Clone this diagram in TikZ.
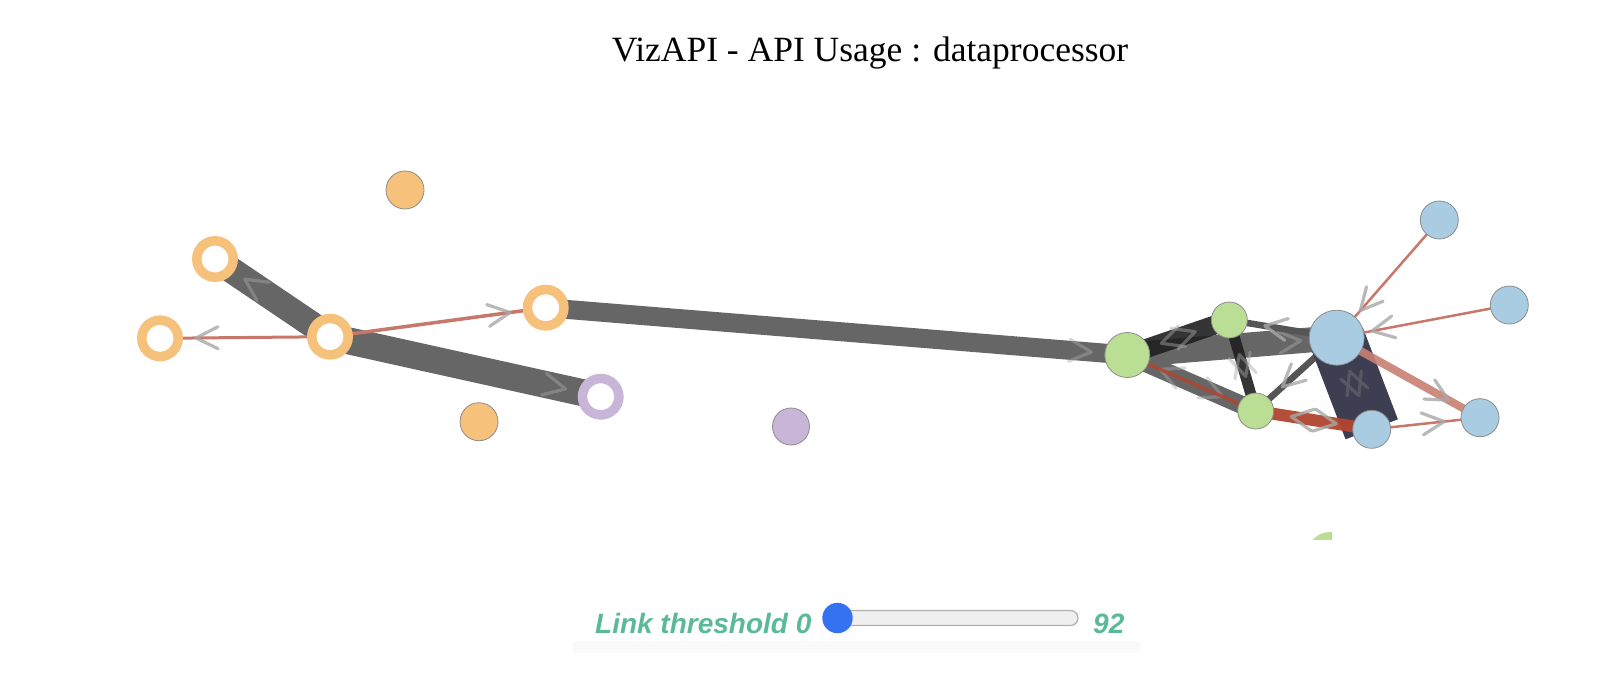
\documentclass[tikz,border=0pt]{standalone}
\usepackage{fontspec}
\setmainfont{Liberation Serif}
\newfontfamily\slfont{Liberation Sans}
\usetikzlibrary{decorations.markings}
\pgfdeclarelayer{bg}
\pgfsetlayers{bg,main}
\definecolor{orangeN}{HTML}{F5C17B}
\definecolor{purpleN}{HTML}{C9B5D8}
\definecolor{greenN}{HTML}{BADE93}
\definecolor{blueN}{HTML}{A9CCE2}
\definecolor{nodeB}{HTML}{8C8C8C}
\definecolor{gEdge}{HTML}{666666}
\definecolor{dEdge}{HTML}{202020}
\definecolor{mEdge}{HTML}{555555}
\definecolor{navyE}{HTML}{3D3E52}
\definecolor{redThin}{HTML}{C7786A}
\definecolor{redThick}{HTML}{B2452E}
\definecolor{salmonE}{HTML}{C98073}
\definecolor{chevC}{HTML}{A8A8A8}
\definecolor{chevN}{HTML}{5A5A66}
\definecolor{tealT}{HTML}{5BB99A}
\definecolor{thumbC}{HTML}{3572F1}
\definecolor{trackF}{HTML}{EFEFEF}
\definecolor{trackB}{HTML}{B0B0B0}
\tikzset{
  ringnode/.style={circle, draw=#1, line width=9.5pt, fill=white, minimum size=36.4pt, inner sep=0pt},
  dotnode/.style 2 args={circle, fill=#1, draw=nodeB, line width=0.8pt, minimum size=#2, inner sep=0pt},
  chev/.style={draw=chevC, line width=3.2pt, opacity=0.8, line cap=round, line join=round},
  chevcol/.style={},
  arr/.style={postaction={decorate, decoration={markings, mark=at position -36pt with {\draw[chev, chevcol] (-22pt,11pt) -- (0pt,0pt) -- (-22pt,-11pt);}}}},
  arrS/.style={postaction={decorate, decoration={markings, mark=at position 36pt with {\draw[chev, chevcol] (22pt,11pt) -- (0pt,0pt) -- (22pt,-11pt);}}}},
  faintchev/.style={chevcol/.style={opacity=0.45}},
  navychev/.style={chevcol/.style={draw=chevN, opacity=0.9}},
  gband/.style={draw=gEdge, line cap=butt, faintchev},
  dband/.style={draw=dEdge, opacity=0.9, line cap=butt, faintchev},
  redline/.style={draw=redThin, line width=2.5pt, line cap=butt},
}
\begin{document}
\begin{tikzpicture}[x=1pt,y=-1pt]
\useasboundingbox (0,0) rectangle (1600,675);
\begin{pgfonlayer}{bg}
\fill[white] (0,0) rectangle (1600,675);
\end{pgfonlayer}

% title
\node[anchor=base, inner sep=0pt, font=\fontsize{35.5}{40}\selectfont] (title) at (870,61) {VizAPI - API Usage : dataprocessor};

% left cluster
\node[ringnode=orangeN] (A) at (215,259) {};
\node[ringnode=orangeN] (B) at (160,338.3) {};
\node[ringnode=orangeN] (C) at (330,336.7) {};
\node[ringnode=orangeN] (D) at (545.7,307.7) {};
\node[ringnode=purpleN] (E) at (600.7,396.7) {};
\node[dotnode={orangeN}{38pt}] (G) at (405,190) {};
\node[dotnode={orangeN}{38pt}] (F) at (479,421.7) {};
\node[dotnode={purpleN}{37pt}] (H) at (791,426.5) {};

% right cluster
\node[dotnode={greenN}{45pt}] (N1) at (1127.3,355) {};
\node[dotnode={greenN}{36pt}] (N2) at (1229.3,320) {};
\node[dotnode={greenN}{36pt}] (N3) at (1255.7,411) {};
\node[dotnode={blueN}{55pt}] (N4) at (1336.7,337.7) {};
\node[dotnode={blueN}{38pt}] (N5) at (1439.3,220) {};
\node[dotnode={blueN}{38pt}] (N6) at (1509.3,305) {};
\node[dotnode={blueN}{38pt}] (N7) at (1480,417.7) {};
\node[dotnode={blueN}{38pt}] (N8) at (1371.7,429.3) {};

% partly hidden node at the bottom edge of the graph area
\begin{scope}
\clip (1300,520) rectangle (1332,539.5);
\node[dotnode={greenN}{46pt}, draw=none] (N9) at (1330,555) {};
\end{scope}

\begin{pgfonlayer}{bg}
% left edges
\draw[gband, line width=26pt, arr] (C.center) -- (A.center);
\draw[gband, line width=27pt, arr] (C.center) -- (E.center);
\draw[redline, line width=3pt, arr] (C.center) -- (B.center);
\draw[redline, line width=3.5pt, arr] (C.center) -- (D.center);
\draw[gband, line width=19pt, arr] (D.center) -- (N1.center);
% right edges
\draw[gband, line width=25pt, arr] (N1.center) -- (N4.center);
\draw[gband, line width=18pt, arr, arrS] (N1.center) -- (N3.center);
\draw[draw=mEdge, line width=6.5pt, arr] (N4.center) -- (N2.center);
\draw[draw=mEdge, line width=6.5pt, arr] (N4.center) -- (N3.center);
\draw[dband, line width=19pt, arr, arrS] (N1.center) -- (N2.center);
\draw[dband, line width=11pt, arr, arrS] (N2.center) -- (N3.center);
\draw[draw=redThick, line width=3.5pt, opacity=0.85] (N1.center) -- (N3.center);
\draw[draw=navyE, line width=56pt, line cap=butt, navychev, arr, arrS] (N4.center) -- (N8.center);
\draw[draw=redThick, line width=12pt, opacity=0.95, arr, arrS] (N3.center) -- (N8.center);
\draw[draw=salmonE, line width=8pt, opacity=0.9, arr] (N4.center) -- (N7.center);
\draw[redline, arr] (N8.center) -- (N7.center);
\draw[redline, arr] (N5.center) -- (N4.center);
\draw[redline, arr] (N6.center) -- (N4.center);
\end{pgfonlayer}

% slider panel
\fill[black!2] (573,641) rectangle (1141,653);
\draw[draw=trackB, fill=trackF, line width=1.2pt, rounded corners=7.5pt] (826,610.5) rectangle (1078,625.5);
\node[circle, fill=thumbC, minimum size=30.4pt, inner sep=0pt] (thumb) at (837.5,618) {};
\node[anchor=base east, inner sep=0pt, text=tealT, font=\slfont\bfseries\itshape\fontsize{28}{32}\selectfont] (lt) at (811.6,633) {Link threshold 0};
\node[anchor=base west, inner sep=0pt, text=tealT, font=\slfont\bfseries\itshape\fontsize{28}{32}\selectfont] (mx) at (1093,633) {92};
\end{tikzpicture}
\end{document}
